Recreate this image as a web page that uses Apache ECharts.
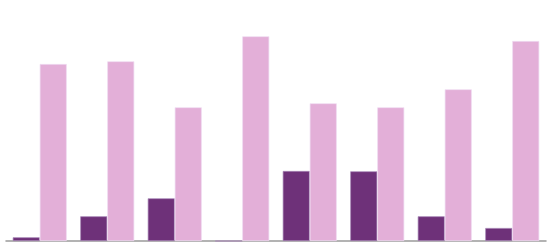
<!DOCTYPE html>
<html><head><meta charset="utf-8">
<script src="https://cdn.jsdelivr.net/npm/echarts@6/dist/echarts.min.js"></script>
<style>html,body{margin:0;padding:0;background:#fff}#c{width:556px;height:251px}</style>
</head><body><div id="c"></div>
<script>
const categories = ['1','2','3','4','5','6','7','8'];
const seriesA = [3.7, 24.7, 42.7, 0, 70, 69.7, 24.7, 13];
const seriesB = [177, 179.7, 133.7, 204.7, 137.7, 133.7, 151.7, 200];
const chart = echarts.init(document.getElementById('c'), null, {renderer:'canvas'});
chart.setOption({
  animation:false,
  grid:{left:6,right:10,top:11,bottom:10,containLabel:false},
  xAxis:{type:'category',data:categories,axisLine:{lineStyle:{color:'#9a9a9a',width:1.5}},axisTick:{show:false},axisLabel:{show:false}},
  yAxis:{type:'value',min:0,max:230,show:false,splitLine:{show:false}},
  series:[
    {type:'bar',data:seriesA,barWidth:'40%',barGap:'0%',itemStyle:{color:'#6e3179',borderColor:'#a98ab8',borderWidth:0.7}},
    {type:'bar',data:seriesB,barWidth:'40%',barGap:'0%',itemStyle:{color:'#e3afd8',borderColor:'#efdcf2',borderWidth:0.7}}
  ]
});
</script></body></html>
